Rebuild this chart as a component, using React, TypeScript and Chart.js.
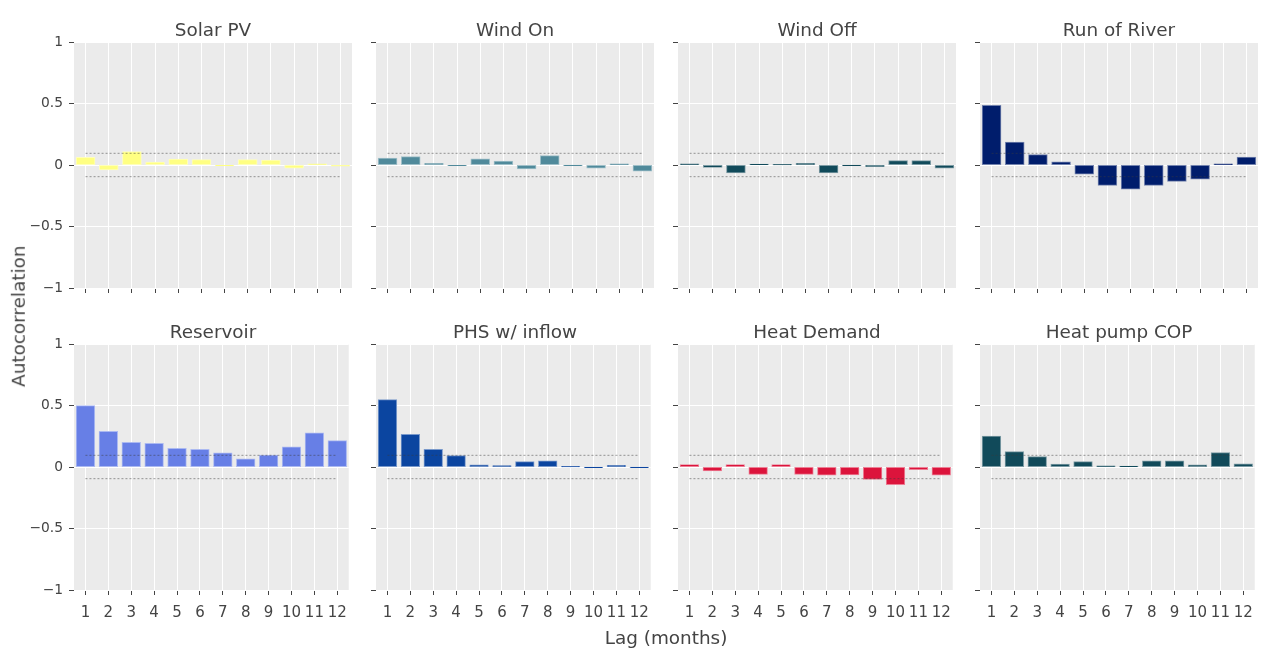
import React, { useEffect, useRef } from 'react';
import { Chart, registerables } from 'chart.js';

Chart.register(...registerables);

// ---- data ----
const LAGS = ['1', '2', '3', '4', '5', '6', '7', '8', '9', '10', '11', '12'];

const SOLAR_PV = [0.06, -0.038, 0.108, 0.022, 0.046, 0.043, -0.006, 0.043, 0.038, -0.024, 0.009, -0.008];
const WIND_ON = [0.054, 0.068, 0.013, -0.004, 0.049, 0.03, -0.03, 0.076, -0.003, -0.025, 0.008, -0.049];
const WIND_OFF = [0.008, -0.019, -0.062, 0.006, 0.002, 0.013, -0.062, -0.003, -0.013, 0.035, 0.035, -0.024];
const RUN_OF_RIVER = [0.484, 0.184, 0.084, 0.024, -0.073, -0.165, -0.195, -0.165, -0.132, -0.114, 0.008, 0.062];
const RESERVOIR = [0.497, 0.289, 0.2, 0.192, 0.151, 0.143, 0.114, 0.065, 0.095, 0.162, 0.276, 0.214];
const PHS_INFLOW = [0.546, 0.265, 0.143, 0.092, 0.016, 0.011, 0.043, 0.049, 0.002, -0.003, 0.013, -0.003];
const HEAT_DEMAND = [0.019, -0.03, 0.019, -0.059, 0.019, -0.059, -0.065, -0.062, -0.1, -0.143, -0.02, -0.065];
const HEAT_PUMP_COP = [0.251, 0.124, 0.084, 0.022, 0.043, 0.008, 0.006, 0.049, 0.049, 0.016, 0.116, 0.024];

const CONF_UPPER = [0.095, 0.095, 0.095, 0.095, 0.095, 0.095, 0.095, 0.095, 0.095, 0.095, 0.095, 0.095];
const CONF_LOWER = [-0.095, -0.095, -0.095, -0.095, -0.095, -0.095, -0.095, -0.095, -0.095, -0.095, -0.095, -0.095];

const PANEL_TITLES = ['Solar PV', 'Wind On', 'Wind Off', 'Run of River', 'Reservoir', 'PHS w/ inflow', 'Heat Demand', 'Heat pump COP'];
const PANEL_VALUES = [SOLAR_PV, WIND_ON, WIND_OFF, RUN_OF_RIVER, RESERVOIR, PHS_INFLOW, HEAT_DEMAND, HEAT_PUMP_COP];
const PANEL_COLORS = ['#ffff82', '#508a9b', '#114a5a', '#001d6c', '#677fe6', '#0b45a0', '#dc143c', '#114a5a'];

const Y_TITLE = 'Autocorrelation';
const X_TITLE = 'Lag (months)';

// ---- layout ----
const COL_LEFT = [74, 376, 678, 980];
const ROW_TOP = [42, 344];
const PLOT_W = 278;
const PLOT_H = 246;
const YW = 50;
const PADT = 20;
const PADR = 4;
const XH = 40;
const FONT = '"DejaVu Sans", Verdana, sans-serif';
const TEXT = '#444';
const TITLE_SIZE = 18.4;

function tint(hex: string, f: number) {
  const n = parseInt(hex.slice(1), 16);
  const r = (n >> 16) & 255;
  const g = (n >> 8) & 255;
  const b = n & 255;
  const m = (c: number) => Math.round(c + (255 - c) * f);
  return `rgb(${m(r)},${m(g)},${m(b)})`;
}

const bgPlugin = {
  id: 'plotBg',
  beforeDraw(chart: any) {
    const { ctx, chartArea } = chart;
    if (!chartArea) return;
    ctx.save();
    ctx.fillStyle = '#ebebeb';
    ctx.fillRect(chartArea.left, chartArea.top, chartArea.right - chartArea.left, chartArea.bottom - chartArea.top);
    ctx.restore();
  },
};

function fmtY(v: number) {
  if (v === 0) return '0';
  return (v < 0 ? '\u2212' : '') + String(Math.abs(v));
}

function Panel({ idx }: { idx: number }) {
  const ref = useRef<HTMLCanvasElement | null>(null);
  const row = Math.floor(idx / 4);
  const col = idx % 4;
  const w = YW + PLOT_W + PADR;
  const h = PADT + PLOT_H + XH;

  useEffect(() => {
    if (!ref.current) return;
    const chart = new Chart(ref.current, {
      type: 'bar',
      data: {
        labels: LAGS,
        datasets: [
          {
            type: 'line' as const,
            data: CONF_UPPER,
            borderColor: 'rgba(60,60,60,0.5)',
            borderWidth: 1,
            borderDash: [2, 2],
            pointRadius: 0,
            fill: false,
            order: 0,
          },
          {
            type: 'line' as const,
            data: CONF_LOWER,
            borderColor: 'rgba(60,60,60,0.5)',
            borderWidth: 1,
            borderDash: [2, 2],
            pointRadius: 0,
            fill: false,
            order: 0,
          },
          {
            type: 'bar' as const,
            data: PANEL_VALUES[idx],
            backgroundColor: PANEL_COLORS[idx],
            borderColor: tint(PANEL_COLORS[idx], 0.45),
            borderWidth: 1,
            borderSkipped: false,
            inflateAmount: 0.5,
            barPercentage: 0.8,
            categoryPercentage: 1,
            order: 1,
          },
        ],
      } as any,
      options: {
        animation: false,
        responsive: false,
        maintainAspectRatio: false,
        layout: { padding: { top: PADT, right: PADR, left: 0, bottom: 0 } },
        plugins: { legend: { display: false }, tooltip: { enabled: false }, title: { display: false } },
        events: [],
        scales: {
          x: {
            type: 'category',
            offset: true,
            grid: {
              offset: false,
              color: '#ffffff',
              lineWidth: 1,
              drawTicks: true,
              tickLength: 5,
              tickColor: TEXT,
              tickWidth: 1,
            },
            border: { display: false },
            ticks: {
              display: row === 1,
              color: TEXT,
              font: { family: FONT, size: 15 },
              padding: 9,
              maxRotation: 0,
              autoSkip: false,
            },
            afterFit(s: any) {
              s.height = XH;
            },
          },
          y: {
            type: 'linear',
            min: -1,
            max: 1,
            grid: {
              color: '#ffffff',
              lineWidth: 1,
              drawTicks: true,
              tickLength: 5,
              tickColor: TEXT,
              tickWidth: 1,
            },
            border: { display: false },
            ticks: {
              display: col === 0,
              stepSize: 0.5,
              color: TEXT,
              font: { family: FONT, size: 13.8 },
              padding: 6,
              callback: (v: any) => fmtY(Number(v)),
            },
            afterFit(s: any) {
              s.width = YW;
            },
          },
        },
      } as any,
      plugins: [bgPlugin],
    });
    return () => chart.destroy();
  }, [idx]);

  return (
    <>
      <canvas
        ref={ref}
        width={w}
        height={h}
        style={{
          position: 'absolute',
          left: COL_LEFT[col] - YW,
          top: ROW_TOP[row] - PADT,
          width: w,
          height: h,
        }}
      />
      <div
        style={{
          position: 'absolute',
          left: COL_LEFT[col],
          top: ROW_TOP[row] - 21.3,
          width: PLOT_W,
          textAlign: 'center',
          fontFamily: FONT,
          fontSize: TITLE_SIZE,
          lineHeight: `${TITLE_SIZE}px`,
          color: TEXT,
          whiteSpace: 'nowrap',
        }}
      >
        {PANEL_TITLES[idx]}
      </div>
    </>
  );
}

export default function App() {
  return (
    <div
      style={{
        position: 'fixed',
        left: 0,
        top: 0,
        width: 1269,
        height: 654,
        background: '#ffffff',
        overflow: 'hidden',
      }}
    >
      {PANEL_TITLES.map((_, i) => (
        <Panel key={i} idx={i} />
      ))}
      <div
        style={{
          position: 'absolute',
          left: 18.6 - 150,
          top: 316 - TITLE_SIZE / 2,
          width: 300,
          height: TITLE_SIZE,
          lineHeight: `${TITLE_SIZE}px`,
          textAlign: 'center',
          transform: 'rotate(-90deg)',
          fontFamily: FONT,
          fontSize: TITLE_SIZE,
          color: TEXT,
          whiteSpace: 'nowrap',
        }}
      >
        {Y_TITLE}
      </div>
      <div
        style={{
          position: 'absolute',
          left: 666 - 150,
          top: 629.4,
          width: 300,
          lineHeight: `${TITLE_SIZE}px`,
          textAlign: 'center',
          fontFamily: FONT,
          fontSize: TITLE_SIZE,
          color: TEXT,
          whiteSpace: 'nowrap',
        }}
      >
        {X_TITLE}
      </div>
    </div>
  );
}
